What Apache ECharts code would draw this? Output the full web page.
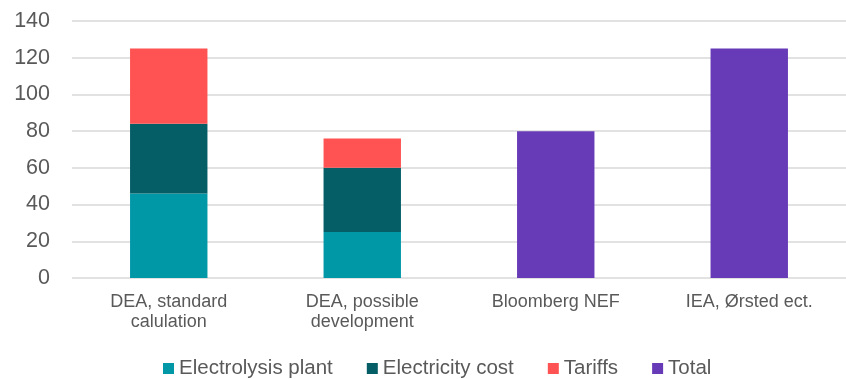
<!DOCTYPE html>
<html>
<head>
<meta charset="utf-8">
<script src="https://cdn.jsdelivr.net/npm/echarts@6/dist/echarts.min.js"></script>
<style>
  html, body { margin: 0; padding: 0; background: #fff; }
  #chart { width: 846px; height: 379px; }
</style>
</head>
<body>
<div id="chart"></div>
<script>
var categories = ['DEA, standard\ncalulation', 'DEA, possible\ndevelopment', 'Bloomberg NEF', 'IEA, Ørsted ect.'];
var electrolysis = [46, 25, null, null];
var electricity = [38, 35, null, null];
var tariffs = [41, 16, null, null];
var total = [null, null, 80, 125];
var yTicks = [0, 20, 40, 60, 80, 100, 120, 140];

var colors = ['#0097A7', '#055E66', '#FF5252', '#673AB7'];
var names = ['Electrolysis plant', 'Electricity cost', 'Tariffs', 'Total'];
var values = [electrolysis, electricity, tariffs, total];

var series = [];
values.forEach(function(v, i) {
    series.push({
        name: names[i],
        type: 'bar',
        stack: 'cost',
        barWidth: '40%',
        itemStyle: { color: colors[i] },
        data: v
    });
});

var option = {
    backgroundColor: '#ffffff',
    textStyle: { fontFamily: 'Liberation Sans' },
    grid: { left: 72, right: -2, top: 21, bottom: 101, containLabel: false },
    legend: {
        bottom: 0,
        left: 163,
        padding: 0,
        data: names,
        icon: 'rect',
        itemWidth: 11,
        itemHeight: 11,
        itemGap: 34,
        textStyle: { fontSize: 20.5, color: '#595959', fontFamily: 'Liberation Sans' }
    },
    xAxis: {
        type: 'category',
        data: categories,
        axisLine: { show: false },
        axisTick: { show: false },
        axisLabel: { color: '#595959', fontSize: 18, lineHeight: 20, margin: 14, interval: 0 }
    },
    yAxis: {
        type: 'value',
        min: yTicks[0],
        max: yTicks[yTicks.length - 1],
        interval: 20,
        axisLine: { show: false },
        axisTick: { show: false },
        axisLabel: { color: '#595959', fontSize: 21.5, margin: 22 },
        splitLine: { lineStyle: { color: '#d9d9d9', width: 1.5 } }
    },
    series: series
};

var myChart = echarts.init(document.getElementById('chart'));
myChart.setOption(option);
</script>
</body>
</html>
